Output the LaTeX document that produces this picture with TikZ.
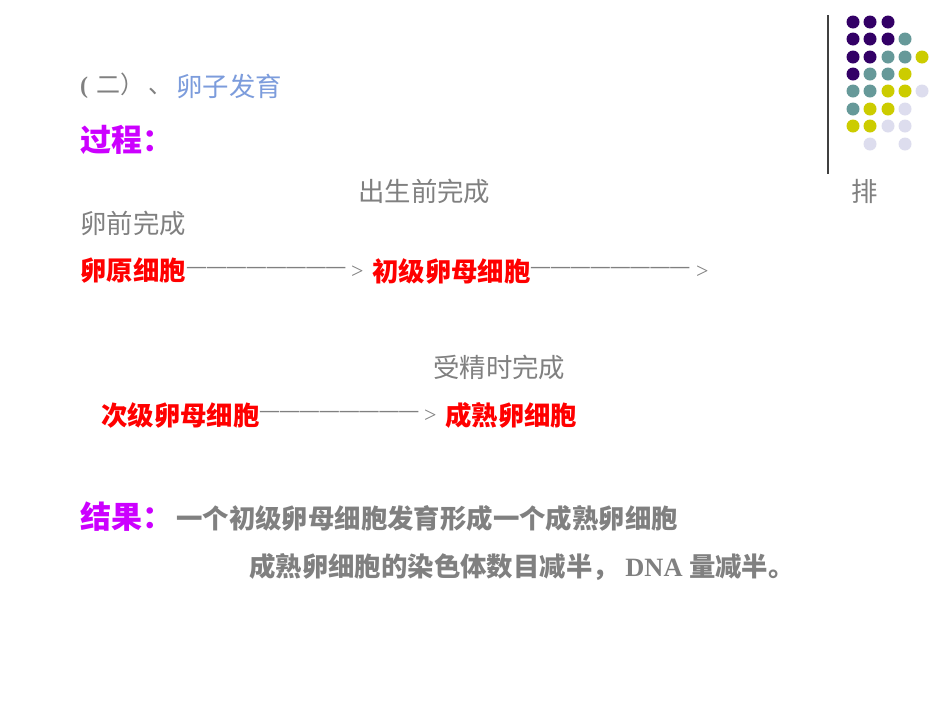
\documentclass[tikz,border=0pt]{standalone}
\usepackage{fontspec}
\setmainfont{Liberation Serif}
\newfontfamily\cjk{Noto Sans CJK SC}
\definecolor{dpurple}{HTML}{330066}
\definecolor{dteal}{HTML}{669999}
\definecolor{dyellow}{HTML}{CCCC00}
\definecolor{dlav}{HTML}{DDDDEE}
\definecolor{tgray}{HTML}{808080}
\definecolor{tblue}{HTML}{7C9CDC}
\definecolor{tmag}{HTML}{CC00FF}
\definecolor{tred}{HTML}{FF0000}
\newcommand{\dashrow}{\bfseries—\kern0.9pt—\kern0.9pt—\kern0.9pt—\kern0.9pt—\kern0.9pt—\kern0.9pt—\kern0.9pt—}
\tikzset{
  txt/.style={anchor=west, inner sep=0pt, font=\cjk\fontsize{26.4}{28}\selectfont},
  graytxt/.style={txt, text=tgray},
  redtxt/.style={txt, text=tred, font=\cjk\bfseries\fontsize{26.4}{28}\selectfont},
  boldgray/.style={txt, text=tgray, font=\cjk\bfseries\fontsize{26.4}{28}\selectfont},
  headtxt/.style={txt, text=tmag, font=\cjk\bfseries\fontsize{31}{33}\selectfont},
  dashes/.style={anchor=west, inner sep=0pt, text=tgray, font=\fontsize{19}{21}\selectfont},
  arrtxt/.style={anchor=west, inner sep=0pt, text=tgray, font=\fontsize{22}{24}\selectfont},
  dot/.style={circle, inner sep=0pt, minimum size=13pt},
}
\begin{document}
\begin{tikzpicture}[x=1pt,y=-1pt]
\useasboundingbox[fill=white] (0,0) rectangle (950,713);
% decorative dots
\foreach \c/\x/\y in {
  dpurple/853/22, dpurple/870/22, dpurple/888/22,
  dpurple/853/39, dpurple/870/39, dpurple/888/39, dteal/905/39,
  dpurple/853/57, dpurple/870/57, dteal/888/57, dteal/905/57, dyellow/922/57,
  dpurple/853/74, dteal/870/74, dteal/888/74, dyellow/905/74,
  dteal/853/91, dteal/870/91, dyellow/888/91, dyellow/905/91, dlav/922/91,
  dteal/853/109, dyellow/870/109, dyellow/888/109, dlav/905/109,
  dyellow/853/126, dyellow/870/126, dlav/888/126, dlav/905/126,
  dlav/870/144, dlav/905/144}
  \node[dot, fill=\c] at (\x,\y) {};
\coordinate (vtop) at (828,15);
\coordinate (vbot) at (828,174);
\draw[line width=1.2pt, color=black!75] (vtop) -- (vbot);
% title
\node[graytxt, font=\bfseries\fontsize{24}{26}\selectfont] (t1) at (80,86) {(\kern8pt{\cjk\mdseries 二）\kern4pt 、}};
\node[txt, text=tblue] (t2) at (176,86) {卵子发育};
\node[headtxt] (proc) at (80,140) {过程：};
% row 1
\node[graytxt] (n1) at (358,191) {出生前完成};
\node[graytxt] (n2) at (851,191) {排};
\node[graytxt] (n3) at (80,223) {卵前完成};
\node[redtxt] (c1) at (80,271) {卵原细胞};
\node[dashes] (d1) at (187,270) {\dashrow};
\node[arrtxt] (a1) at (351,272) {>};
\node[redtxt] (c2) at (372,271) {初级卵母细胞};
\node[dashes] (d2) at (531,270) {\dashrow};
\node[arrtxt] (a2) at (696,272) {>};
% row 2
\node[graytxt] (n4) at (433,367) {受精时完成};
\node[redtxt] (c3) at (101,415) {次级卵母细胞};
\node[dashes] (d3) at (260,414) {\dashrow};
\node[arrtxt] (a3) at (424,416) {>};
\node[redtxt] (c4) at (445,415) {成熟卵细胞};
% result
\node[headtxt] (res) at (80,517) {结果：};
\node[boldgray] (r1) at (176,518) {一个初级卵母细胞发育形成一个成熟卵细胞};
\node[boldgray] (r2) at (249,567) {成熟卵细胞的染色体数目减半，{\rmfamily\bfseries\ DNA }量减半。};
\end{tikzpicture}
\end{document}
